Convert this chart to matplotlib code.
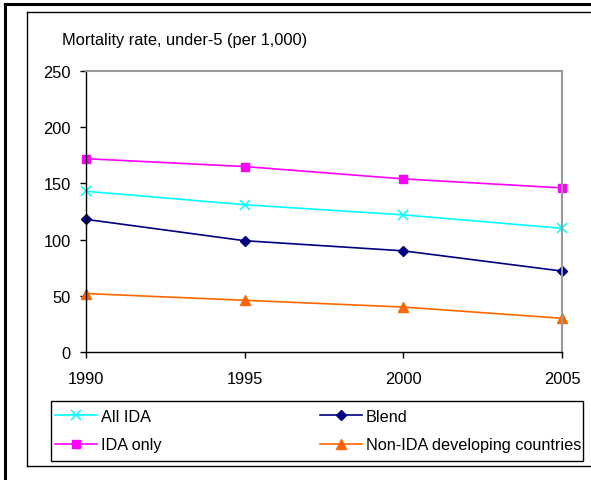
import matplotlib
matplotlib.use("Agg")
import matplotlib.pyplot as plt
from matplotlib.patches import Rectangle
from matplotlib.lines import Line2D

plt.rcParams['font.family'] = ['Liberation Sans', 'DejaVu Sans']

years = [1990, 1995, 2000, 2005]
all_ida = [143, 131, 122, 110]
blend = [118, 99, 90, 72]
ida_only = [172, 165, 154, 146]
non_ida = [52, 46, 40, 30]
yticks = [0, 50, 100, 150, 200, 250]
title = "Mortality rate, under-5 (per 1,000)"

W, H = 591, 481
fig = plt.figure(figsize=(W / 100, H / 100), dpi=100)

def fx(x):
    return x / W

def fy(y):
    return 1 - y / H

# outer thick frame
fig.add_artist(Line2D([fx(5), fx(591)], [fy(5), fy(5)], color='black', lw=2.2, transform=fig.transFigure))
fig.add_artist(Line2D([fx(5), fx(5)], [fy(5), fy(481)], color='black', lw=2.2, transform=fig.transFigure))
# inner chart area frame
fig.add_artist(Line2D([fx(27), fx(591)], [fy(13), fy(13)], color='black', lw=1.0, transform=fig.transFigure))
fig.add_artist(Line2D([fx(27), fx(27)], [fy(13), fy(467)], color='black', lw=1.0, transform=fig.transFigure))
fig.add_artist(Line2D([fx(27), fx(591)], [fy(467), fy(467)], color='black', lw=1.0, transform=fig.transFigure))

ax = fig.add_axes([fx(86), fy(353), fx(562) - fx(86), (353 - 72) / H])
ax.plot(years, all_ida, color='#00FFFF', marker='x', ms=7, mew=1.1, lw=1.2, label='All IDA', clip_on=False)
ax.plot(years, blend, color='#000080', marker='D', ms=5.5, lw=1.2, label='Blend', clip_on=False)
ax.plot(years, ida_only, color='#FF00FF', marker='s', ms=6, lw=1.2, label='IDA only', clip_on=False)
ax.plot(years, non_ida, color='#FF6600', marker='^', ms=7, lw=1.2, label='Non-IDA developing countries', clip_on=False)

ax.set_xlim(1990, 2005)
ax.set_ylim(0, 250)
ax.set_xticks(years)
ax.set_yticks(yticks)
ax.tick_params(labelsize=11.8, length=4, width=1, direction='out', pad=7)
ax.tick_params(axis='x', pad=10)
for s in ['top', 'right']:
    ax.spines[s].set_color('#999999')
    ax.spines[s].set_linewidth(1.5)
for s in ['left', 'bottom']:
    ax.spines[s].set_color('black')
    ax.spines[s].set_linewidth(1.0)

fig.text(fx(62), fy(40), title, fontsize=11.8, va='center', ha='left')

# legend frame
fig.add_artist(Rectangle((fx(51), fy(462)), fx(583) - fx(51), (462 - 402) / H,
                         fill=False, edgecolor='black', lw=1.0, transform=fig.transFigure))

handles, labels = ax.get_legend_handles_labels()
order = [0, 2, 1, 3]
leg = fig.legend([handles[i] for i in order], [labels[i] for i in order], ncol=2,
                 loc='upper left', bbox_to_anchor=(fx(55), fy(410)),
                 fontsize=11.7, frameon=False,
                 handlelength=2.58, handletextpad=0.25, borderaxespad=0, borderpad=0,
                 labelspacing=0.82, columnspacing=9.75)

fig.savefig("out.png", dpi=100)
